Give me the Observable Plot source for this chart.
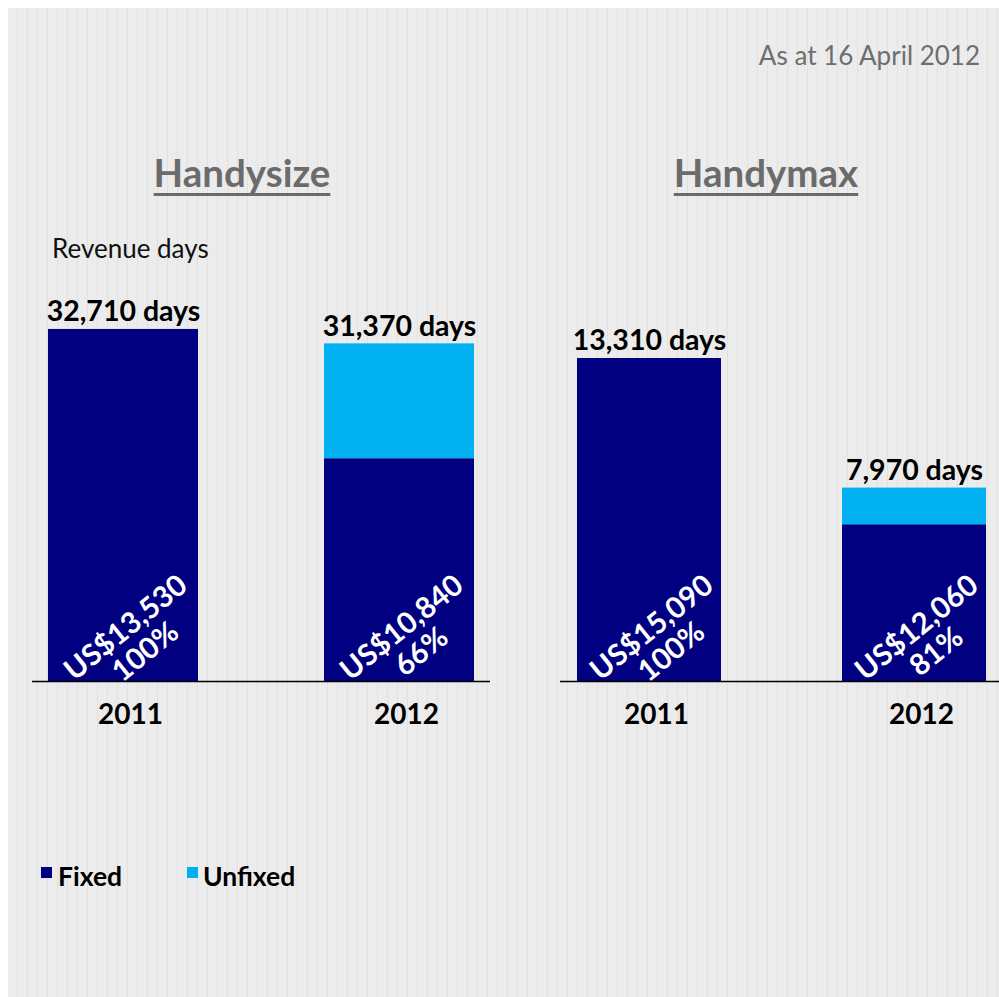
<!DOCTYPE html>
<html>
<head>
<meta charset="utf-8">
<script src="https://cdn.jsdelivr.net/npm/d3@7"></script>
<script src="https://cdn.jsdelivr.net/npm/@observablehq/plot@0.6"></script>
<style>
  html, body { margin: 0; padding: 0; background: #ffffff; }
  body { width: 999px; height: 997px; position: relative; overflow: hidden; font-family: Lato, "Open Sans", sans-serif; }
  #bg { position: absolute; left: 8px; top: 8px; width: 991px; height: 989px;
        background: repeating-linear-gradient(90deg, #ececec 0px, #ececec 9px, #e1e1e1 9px, #e1e1e1 10px); }
  .t { position: absolute; line-height: 1; white-space: nowrap; }
  .plot { position: absolute; }
  .sq { position: absolute; width: 11px; height: 11px; }
  .title { width: 400px; text-align: center; top: 153px; font-size: 38.5px; font-weight: bold; color: #6b6b6b;
           text-decoration: underline; text-decoration-thickness: 3px; text-underline-offset: 6px; }
</style>
</head>
<body>
<div id="bg"></div>
<div class="t" style="right:19px; top:42px; font-size:26px; color:#6e6e6e;">As at 16 April 2012</div>
<div class="t title" style="left:42px;">Handysize</div>
<div class="t title" style="left:566px;">Handymax</div>
<div class="t" style="left:52px; top:235px; font-size:26px; color:#111;">Revenue days</div>
<div id="left" class="plot" style="left:0px; top:280px;"></div>
<div id="right" class="plot" style="left:520px; top:280px;"></div>
<div class="sq" style="left:41px; top:867px; background:#000080;"></div>
<div class="t" style="left:58px; top:863px; font-size:26.5px; font-weight:bold; color:#000;">Fixed</div>
<div class="sq" style="left:187px; top:867px; background:#00B0F0;"></div>
<div class="t" style="left:203px; top:863px; font-size:26.5px; font-weight:bold; color:#000;">Unfixed</div>
<script>
// ---- Data ----
const years = ["2011", "2012"];
const types = ["Fixed", "Unfixed"];
const typeColors = ["#000080", "#00B0F0"];

// Handysize
const handysizeTotal = [32710, 31370];
const handysizeFixed = [32710, 20700];
const handysizeUnfixed = [0, 10670];
const handysizeRate = ["US$13,530", "US$10,840"];
const handysizePct = ["100%", "66%"];

// Handymax
const handymaxTotal = [13310, 7970];
const handymaxFixed = [13310, 6460];
const handymaxUnfixed = [0, 1510];
const handymaxRate = ["US$15,090", "US$12,060"];
const handymaxPct = ["100%", "81%"];

function buildPanel({total, fixed, unfixed, rate, pct, yMax, width, marginLeft, marginRight, align}) {
  const bars = [];
  years.forEach((y, i) => {
    bars.push({year: y, type: types[0], days: fixed[i]});
    bars.push({year: y, type: types[1], days: unfixed[i]});
  });
  const labels = years.map((y, i) => ({
    year: y,
    total: total[i],
    top: d3.format(",")(total[i]) + " days",
    inner: rate[i] + "\n" + pct[i]
  }));
  return Plot.plot({
    width,
    height: 460,
    marginTop: 20,
    marginBottom: 59,
    marginLeft,
    marginRight,
    style: {background: "transparent", overflow: "visible", fontFamily: "Lato, 'Open Sans', sans-serif"},
    x: {domain: years, paddingInner: 0.456, paddingOuter: 0.055, align, label: null},
    y: {domain: [0, yMax], axis: null},
    color: {domain: types, range: typeColors},
    marks: [
      Plot.barY(bars, {x: "year", y: "days", fill: "type", inset: 0}),
      Plot.ruleY([0], {stroke: "#000", strokeWidth: 1.5}),
      Plot.axisX({tickSize: 0, tickPadding: 23, dx: 7, fontSize: 28, fontWeight: "bold", fill: "#000", lineAnchor: "top"}),
      Plot.text(labels, {x: "year", y: "total", text: "top", lineAnchor: "bottom", dy: -8,
        fontSize: 28.5, fontWeight: "bold", fill: "#000"}),
      Plot.text(labels, {x: "year", y: () => 0, text: "inner", dx: 12, dy: -42, rotate: -39,
        fontSize: 29.5, fontWeight: "bold", fill: "#fff", lineHeight: 1.05})
    ]
  });
}

document.getElementById("left").appendChild(buildPanel({
  total: handysizeTotal, fixed: handysizeFixed, unfixed: handysizeUnfixed,
  rate: handysizeRate, pct: handysizePct,
  yMax: 35400, width: 500, marginLeft: 32, marginRight: 10, align: 0.5
}));
document.getElementById("right").appendChild(buildPanel({
  total: handymaxTotal, fixed: handymaxFixed, unfixed: handymaxUnfixed,
  rate: handymaxRate, pct: handymaxPct,
  yMax: 15700, width: 479, marginLeft: 40, marginRight: 0, align: 0.57
}));
</script>
</body>
</html>
